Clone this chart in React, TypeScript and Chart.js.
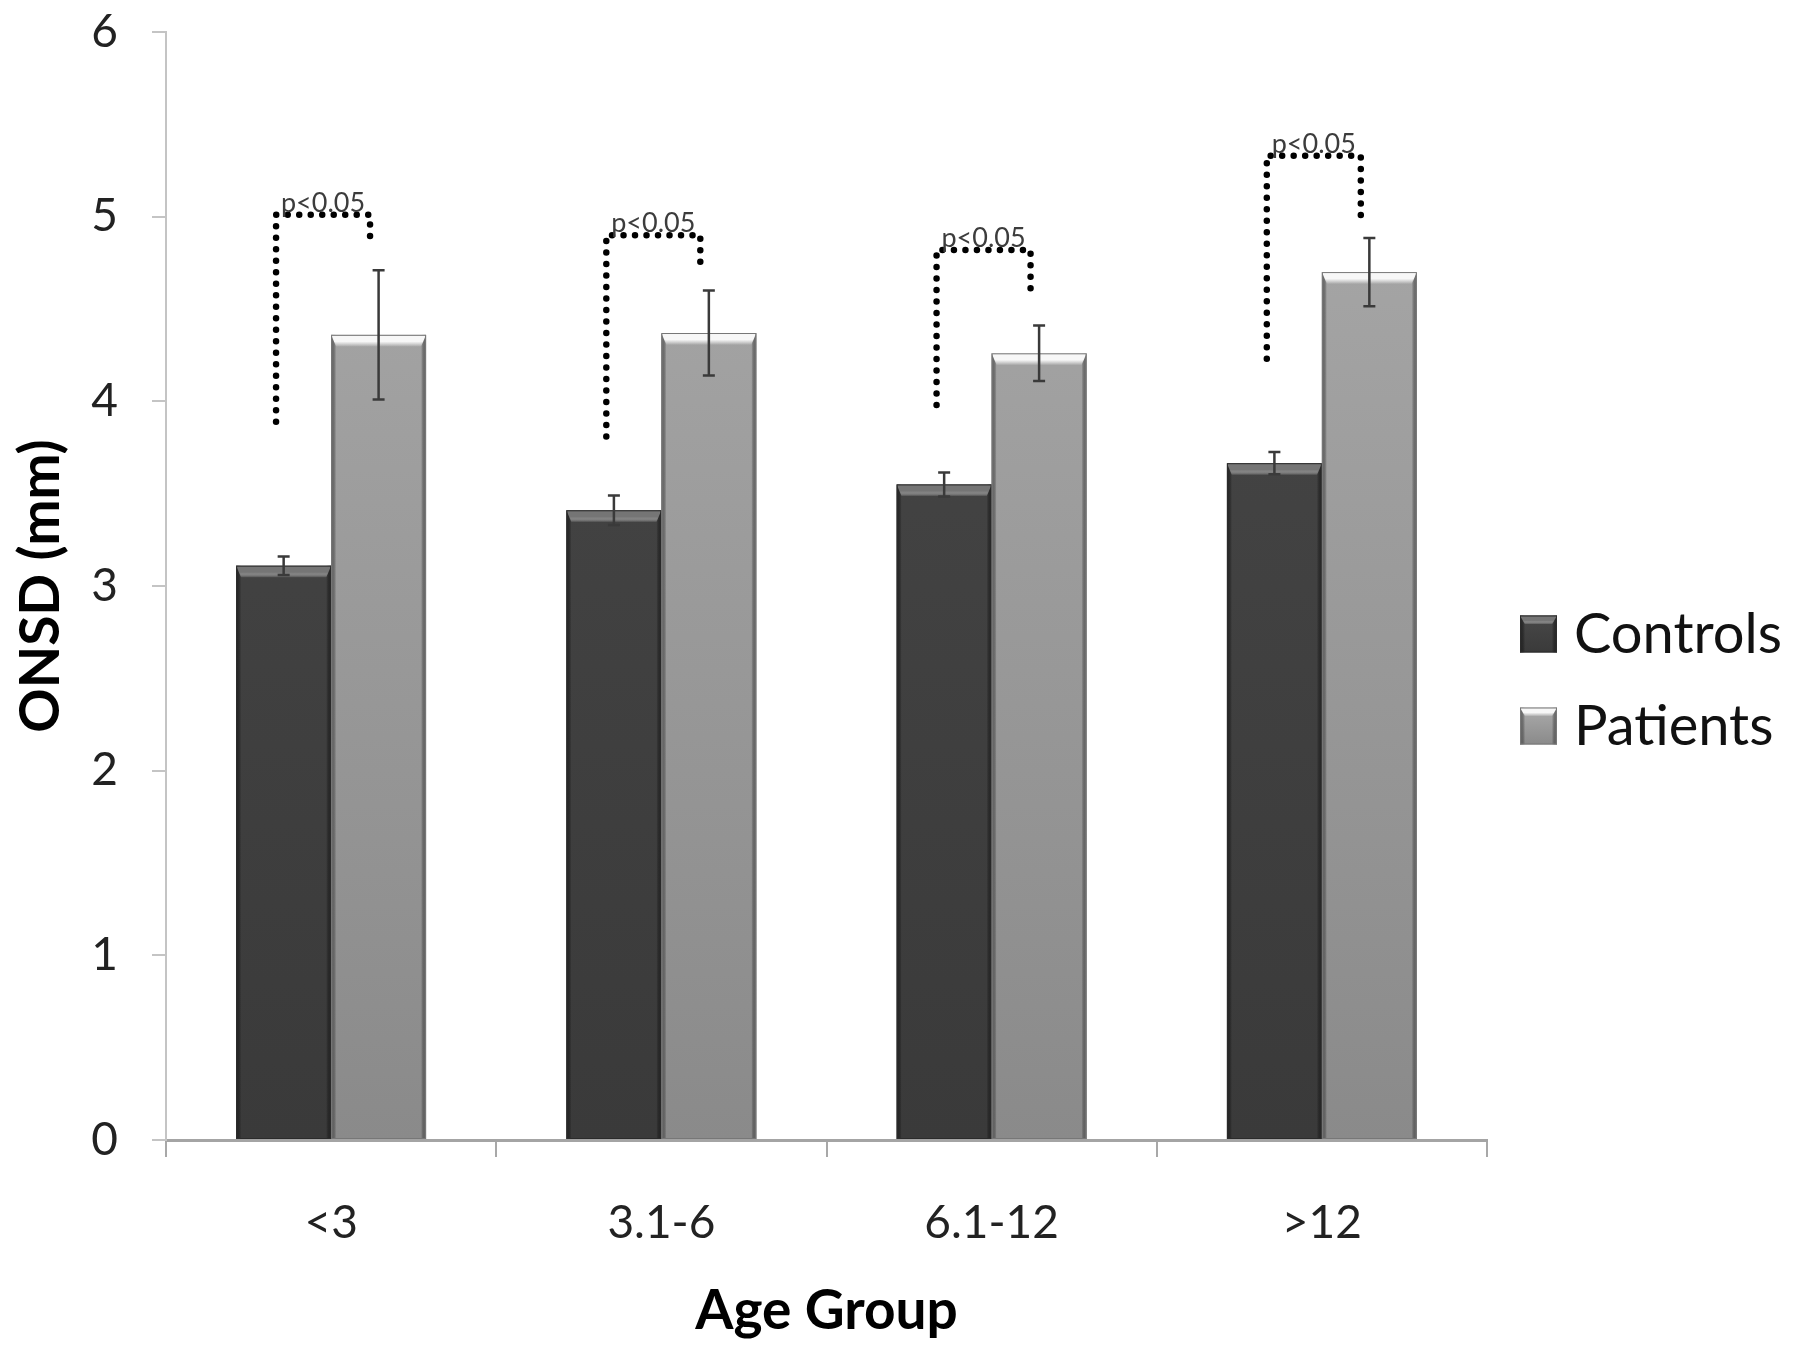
import React, { useEffect, useRef } from "react";
import { Chart, registerables } from "chart.js";

Chart.register(...registerables);

// ---- data ----
const categories = ["<3", "3.1-6", "6.1-12", ">12"];
const seriesNames = ["Controls", "Patients"];
const controlsMean = [3.11, 3.41, 3.55, 3.665];
const controlsErr = [0.05, 0.08, 0.065, 0.06];
const patientsMean = [4.36, 4.37, 4.26, 4.7];
const patientsErr = [0.35, 0.23, 0.15, 0.185];
const yMin = 0;
const yMax = 6;
const yStep = 1;
const bracketBase = [3.89, 3.81, 3.98, 4.23];
const bracketTop = [5.01, 4.9, 4.82, 5.33];
const bracketEnd = [4.84, 4.75, 4.6, 4.98];
const pLabels = ["p<0.05", "p<0.05", "p<0.05", "p<0.05"];
const xTitle = "Age Group";
const yTitle = "ONSD (mm)";

// ---- styles ----
const FONT = "Lato, 'Open Sans', sans-serif";
const palettes = [
  { top: "#484848", bottom: "#3a3a3a", edge: "#2b2b2b", highlight: "#757575" },
  { top: "#ababab", bottom: "#8a8a8a", edge: "#777777", highlight: "#f7f7f7" },
];
const errors = [controlsErr, patientsErr];

function drawBevelBox(ctx: CanvasRenderingContext2D, left: number, top: number, right: number, bottom: number, p: any, band: number) {
  const w = right - left;
  const h = bottom - top;
  if (h <= 0) return;
  const edge = Math.min(5, w / 6);
  ctx.save();
  let g = ctx.createLinearGradient(left, 0, left + edge, 0);
  g.addColorStop(0, p.edge);
  g.addColorStop(1, "rgba(0,0,0,0)");
  ctx.fillStyle = g;
  ctx.fillRect(left, top, edge, h);
  g = ctx.createLinearGradient(right - edge, 0, right, 0);
  g.addColorStop(0, "rgba(0,0,0,0)");
  g.addColorStop(1, p.edge);
  ctx.fillStyle = g;
  ctx.fillRect(right - edge, top, edge, h);
  const bh = Math.min(band, h);
  g = ctx.createLinearGradient(0, top, 0, top + bh);
  g.addColorStop(0, p.highlight);
  g.addColorStop(0.55, p.highlight);
  g.addColorStop(1, "rgba(255,255,255,0)");
  ctx.fillStyle = g;
  ctx.beginPath();
  ctx.moveTo(left, top);
  ctx.lineTo(right, top);
  ctx.lineTo(right - edge, top + bh);
  ctx.lineTo(left + edge, top + bh);
  ctx.closePath();
  ctx.fill();
  ctx.strokeStyle = p.edge;
  ctx.lineWidth = 1;
  ctx.strokeRect(left + 0.5, top + 0.5, w - 1, h - 1);
  ctx.restore();
}

const decorPlugin = {
  id: "decor",
  afterDatasetsDraw(chart: any) {
    const ctx: CanvasRenderingContext2D = chart.ctx;
    const y = chart.scales.y;
    chart.data.datasets.forEach((_: any, di: number) => {
      const meta = chart.getDatasetMeta(di);
      meta.data.forEach((el: any) => {
        const { x, y: top, base, width } = el.getProps(["x", "y", "base", "width"], true);
        drawBevelBox(ctx, x - width / 2, top, x + width / 2, base, palettes[di], 12);
      });
    });
    chart.data.datasets.forEach((ds: any, di: number) => {
      const meta = chart.getDatasetMeta(di);
      meta.data.forEach((el: any, i: number) => {
        const v = ds.data[i];
        const e = errors[di][i];
        const x = el.x;
        const y1 = y.getPixelForValue(v + e);
        const y2 = y.getPixelForValue(v - e);
        ctx.save();
        ctx.strokeStyle = "#3a3a3a";
        ctx.lineWidth = 2.5;
        ctx.beginPath();
        ctx.moveTo(x, y1);
        ctx.lineTo(x, y2);
        ctx.moveTo(x - 6, y1);
        ctx.lineTo(x + 6, y1);
        ctx.moveTo(x - 6, y2);
        ctx.lineTo(x + 6, y2);
        ctx.stroke();
        ctx.restore();
      });
    });
    const m0 = chart.getDatasetMeta(0);
    const m1 = chart.getDatasetMeta(1);
    categories.forEach((_, i) => {
      const a = m0.data[i];
      const b = m1.data[i];
      if (!a || !b) return;
      const xl = a.x - a.width * 0.08;
      const xr = b.x - b.width * 0.09;
      const yb = y.getPixelForValue(bracketBase[i]);
      const yt = y.getPixelForValue(bracketTop[i]);
      const ye = y.getPixelForValue(bracketEnd[i]);
      ctx.save();
      ctx.strokeStyle = "#000";
      ctx.lineWidth = 6.5;
      ctx.lineCap = "round";
      ctx.setLineDash([0, 11.5]);
      ctx.beginPath();
      ctx.moveTo(xl, yb);
      ctx.lineTo(xl, yt);
      ctx.lineTo(xr, yt);
      ctx.lineTo(xr, ye);
      ctx.stroke();
      ctx.setLineDash([]);
      ctx.fillStyle = "#3c3c3c";
      ctx.font = `27px ${FONT}`;
      ctx.textAlign = "center";
      ctx.textBaseline = "alphabetic";
      ctx.fillText(pLabels[i], (xl + xr) / 2, yt - 3);
      ctx.restore();
    });
  },
  afterDraw(chart: any) {
    const ctx: CanvasRenderingContext2D = chart.ctx;
    const lx = 1520;
    const size = 37;
    const ys = [634, 726];
    chart.data.datasets.forEach((ds: any, di: number) => {
      const cy = ys[di];
      const p = palettes[di];
      ctx.save();
      const g = ctx.createLinearGradient(0, cy - size / 2, 0, cy + size / 2);
      g.addColorStop(0, p.top);
      g.addColorStop(1, p.bottom);
      ctx.fillStyle = g;
      ctx.fillRect(lx, cy - size / 2, size, size);
      ctx.restore();
      drawBevelBox(ctx, lx, cy - size / 2, lx + size, cy + size / 2, p, 9);
      ctx.save();
      ctx.fillStyle = "#111";
      ctx.font = `56px ${FONT}`;
      ctx.textAlign = "left";
      ctx.textBaseline = "middle";
      ctx.fillText(ds.label, lx + size + 17, cy + 1);
      ctx.restore();
    });
  },
};

function gradientFill(di: number) {
  return (c: any) => {
    const chart = c.chart;
    const ca = chart.chartArea;
    const p = palettes[di];
    if (!ca) return p.top;
    const g = chart.ctx.createLinearGradient(0, ca.top, 0, ca.bottom);
    g.addColorStop(0, p.top);
    g.addColorStop(1, p.bottom);
    return g;
  };
}

export default function App() {
  const ref = useRef<HTMLCanvasElement | null>(null);
  useEffect(() => {
    if (!ref.current) return;
    const chart = new Chart(ref.current, {
      type: "bar",
      data: {
        labels: categories,
        datasets: [
          {
            label: seriesNames[0],
            data: controlsMean,
            backgroundColor: gradientFill(0),
            borderWidth: 0,
            categoryPercentage: 0.575,
            barPercentage: 1,
          },
          {
            label: seriesNames[1],
            data: patientsMean,
            backgroundColor: gradientFill(1),
            borderWidth: 0,
            categoryPercentage: 0.575,
            barPercentage: 1,
          },
        ],
      },
      options: {
        responsive: false,
        animation: false,
        devicePixelRatio: 1,
        layout: { padding: { top: 32, right: 313, left: 0, bottom: 0 } },
        plugins: {
          legend: { display: false },
          tooltip: { enabled: false },
        },
        scales: {
          x: {
            grid: {
              display: true,
              drawOnChartArea: false,
              drawTicks: true,
              tickLength: 17,
              color: "#a8a8a8",
              lineWidth: 2,
              offset: true,
            },
            border: { display: true, color: "#a4a4a4", width: 3 },
            ticks: {
              color: "#222",
              font: { family: FONT, size: 46 },
              padding: 39,
            },
            title: {
              display: true,
              text: xTitle,
              color: "#000",
              font: { family: FONT, size: 55, weight: "bold" },
              padding: { top: 0, bottom: 11 },
            },
            afterFit: (s: any) => {
              s.height = 215;
              s.paddingLeft = 0;
              s.paddingRight = 0;
            },
          },
          y: {
            min: yMin,
            max: yMax,
            grid: {
              display: true,
              drawOnChartArea: false,
              drawTicks: true,
              tickLength: 14,
              color: "#c4c4c4",
              lineWidth: 2,
            },
            border: { display: true, color: "#c4c4c4", width: 2 },
            ticks: {
              stepSize: yStep,
              color: "#222",
              font: { family: FONT, size: 46 },
              padding: 34,
            },
            title: {
              display: true,
              text: yTitle,
              color: "#000",
              font: { family: FONT, size: 55, weight: "bold" },
              padding: { top: 8, bottom: 0 },
            },
            afterFit: (s: any) => {
              s.width = 166;
              s.paddingTop = 0;
              s.paddingBottom = 0;
            },
          },
        },
      },
      plugins: [decorPlugin],
    });
    return () => chart.destroy();
  }, []);
  return (
    <div style={{ position: "fixed", left: 0, top: 0, width: 1800, height: 1355, background: "#fff" }}>
      <canvas ref={ref} width={1800} height={1355} style={{ display: "block", width: 1800, height: 1355 }} />
    </div>
  );
}
